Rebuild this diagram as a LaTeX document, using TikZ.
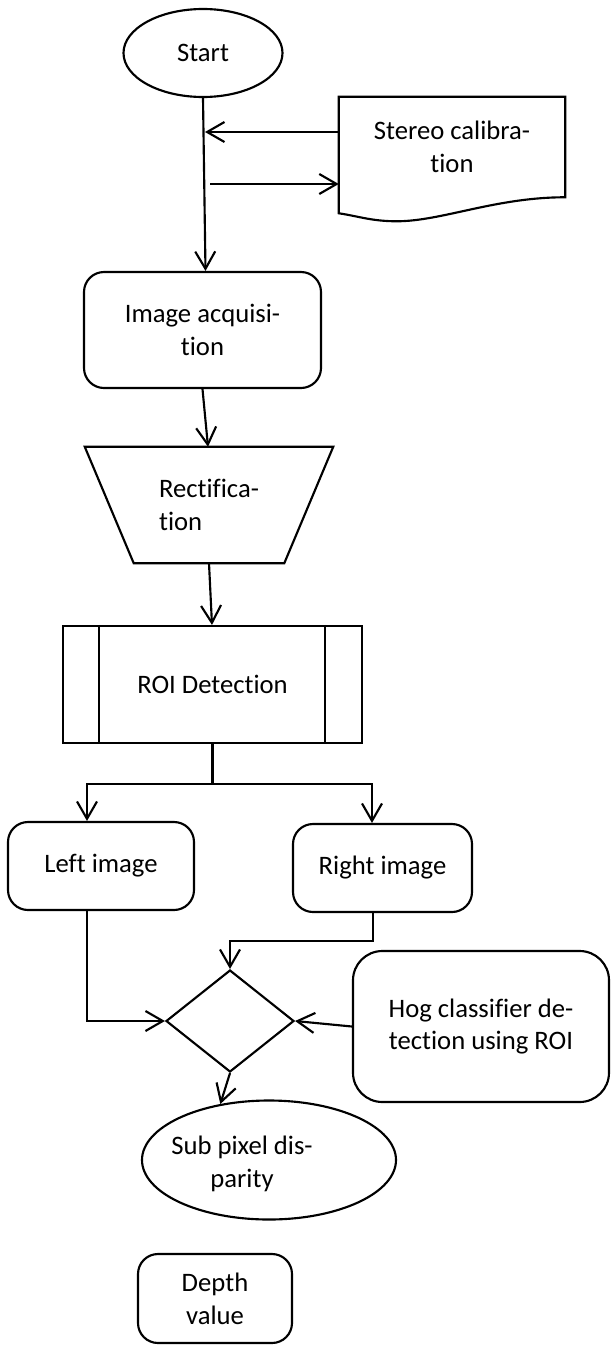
\documentclass[tikz,border=0pt]{standalone}
\usepackage{fontspec}
\setmainfont{Carlito}[Ligatures=NoCommon]
\usetikzlibrary{shapes.geometric,arrows.meta}
\newdimen\pxu \pxu=0.75pt
\begin{document}
\begin{tikzpicture}[x=0.75pt,y=-0.75pt,
  every node/.style={font=\fontsize{20}{24.5}\selectfont, inner sep=0pt, align=center},
  shp/.style={draw, line width=1.6pt},
  rbox/.style={shp, rounded corners=15pt},
  ln/.style={line width=1.6pt},
  arr/.style={line width=1.6pt, -{Straight Barb[length=13pt,width=15pt,line width=1.6pt]}}]
\useasboundingbox (0,0) rectangle (611,1346);

% nodes
\node[shp, ellipse, minimum width=159\pxu, minimum height=88\pxu] (start) at (203,53) {Start};
\node[minimum width=226\pxu, minimum height=100\pxu] (calib) at (452,147) {Stereo calibra-\\tion};
\node[rbox, minimum width=237\pxu, minimum height=116\pxu] (acq) at (202.5,330) {Image acquisi-\\tion};
\node[minimum width=248\pxu, minimum height=116\pxu, align=left] (rect) at (209,505) {Rectifica-\\tion};
\node[shp, minimum width=299\pxu, minimum height=117\pxu] (roi) at (212.5,684.5) {ROI Detection};
\node[rbox, minimum width=186\pxu, minimum height=88\pxu] (left) at (101,866) {Left image};
\node[rbox, minimum width=179\pxu, minimum height=88\pxu] (right) at (382.5,868) {Right image};
\node[shp, diamond, minimum width=128\pxu, minimum height=102\pxu] (dia) at (230,1021) {};
\node[rbox, rounded corners=22pt, minimum width=256\pxu, minimum height=151\pxu] (hog) at (481,1026.5) {Hog classifier de-\\tection using ROI};
\node[shp, ellipse, minimum width=254\pxu, minimum height=119\pxu] (sub) at (269,1160) {};
\node (subtxt) at (242,1164) {Sub pixel dis-\\parity};
\node[rbox, minimum width=154\pxu, minimum height=89\pxu] (depth) at (215,1298.5) {Depth\\value};

% document shape
\draw[shp] (calib.north west) -- (calib.north east) -- (calib.south east)
  .. controls +(-70,0) and +(45,0) .. ([xshift=58\pxu, yshift=-24\pxu]calib.south west)
  .. controls +(-25,0) and +(20,3) .. ([yshift=-16\pxu]calib.south west) -- cycle;

% trapezoid
\draw[shp] (rect.north west) -- (rect.north east) -- ([xshift=-49\pxu]rect.south east)
  -- ([xshift=49\pxu]rect.south west) -- cycle;

% predefined process inner lines
\draw[ln] ([xshift=37\pxu]roi.north west) -- ([xshift=37\pxu]roi.south west);
\draw[ln] ([xshift=-38\pxu]roi.north east) -- ([xshift=-38\pxu]roi.south east);

% connectors
\coordinate (c1) at (205,132);
\coordinate (c2) at (210,184);
\draw[arr] (start.south) -- ([xshift=3\pxu]acq.north);
\draw[arr] ([yshift=15\pxu]calib.west) -- (c1);
\draw[arr] (c2) -- ([yshift=-37\pxu]calib.west);
\draw[arr] (acq.south) -- ([xshift=-1\pxu]rect.north);
\draw[arr] (rect.south) -- ([xshift=-0.5\pxu]roi.north);
\draw[arr] (roi.south) -- ++(0,40) -| ([xshift=-14\pxu]left.north);
\draw[arr] (roi.south) -- ++(0,40) -| ([xshift=-10.5\pxu]right.north);
\draw[arr] ([xshift=-14\pxu]left.south) |- (dia.west);
\draw[arr] ([xshift=-9.5\pxu]right.south) -- ++(0,28) -| (dia.north);
\draw[arr] (hog.west) -- (dia.east);
\draw[arr] (dia.south) -- (sub.131);
\end{tikzpicture}
\end{document}
